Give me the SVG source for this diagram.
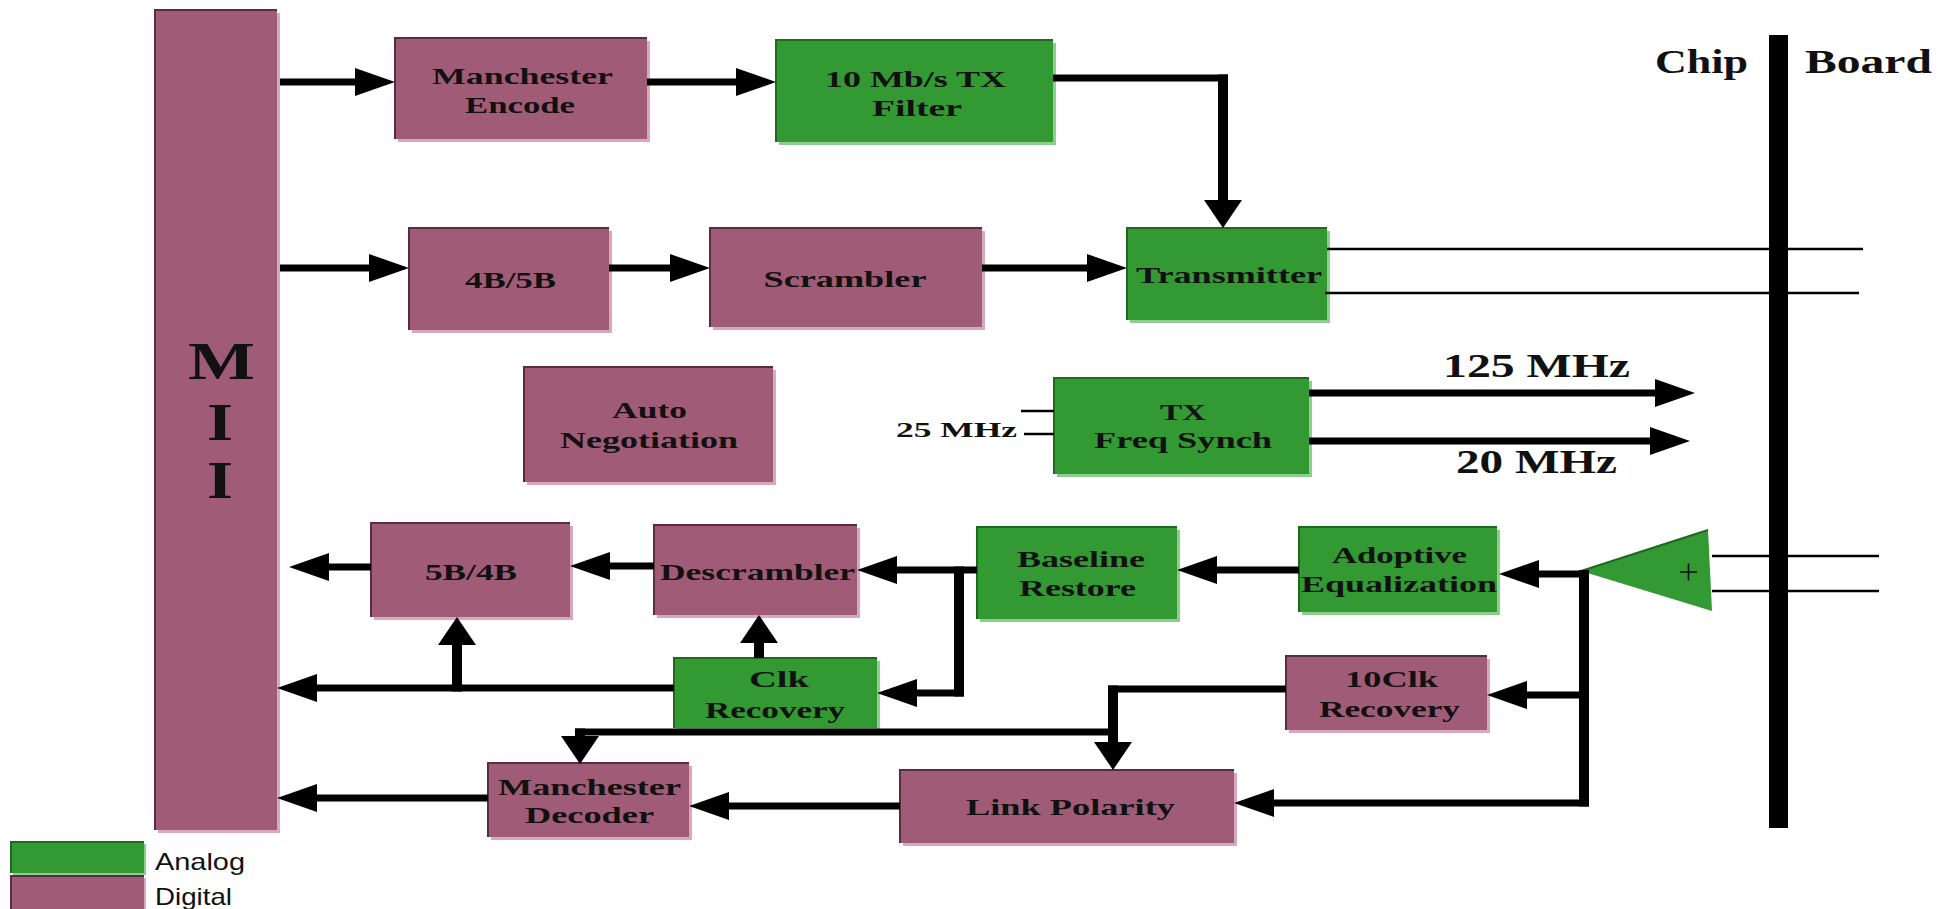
<svg xmlns="http://www.w3.org/2000/svg" width="1952" height="909" viewBox="0 0 1952 909">
  <style>
    .sh-d { fill: #d8a9bc; }
    .bd-d { fill: #a05c77; }
    .ed-d { fill: none; stroke: #5a2c40; stroke-width: 2; }
    .sh-a { fill: #8ccf8c; }
    .bd-a { fill: #339933; }
    .ed-a { fill: none; stroke: #1d6a1d; stroke-width: 2; }
    .lbl { font-family: "Liberation Serif", "Times New Roman", serif; font-weight: bold; font-size: 24px; fill: #111; text-anchor: middle; }
    .big { font-size: 33px; }
    .mii { font-size: 52px; }
    .leg { font-family: "Liberation Sans", Arial, sans-serif; font-size: 24px; fill: #111; }
    .h { stroke: #000; stroke-width: 7; fill: none; }
    .v { stroke: #000; stroke-width: 10; fill: none; }
    .thin { stroke: #000; stroke-width: 2.5; fill: none; }
  </style>
  <defs>
    <!-- horizontal arrowhead (wide and long) -->
    <marker id="ah" viewBox="0 0 40 28" refX="1" refY="14" markerWidth="40" markerHeight="28" markerUnits="userSpaceOnUse" orient="auto">
      <path d="M0,0 L40,14 L0,28 z" fill="#000"/>
    </marker>
    <!-- vertical arrowhead (short and broad) -->
    <marker id="av" viewBox="0 0 28 38" refX="1" refY="19" markerWidth="28" markerHeight="38" markerUnits="userSpaceOnUse" orient="auto">
      <path d="M0,0 L28,19 L0,38 z" fill="#000"/>
    </marker>
  </defs>

  <rect width="1952" height="909" fill="#fff"/>

  <!-- MII -->
  <g id="mii">
    <rect class="sh-d" x="158" y="13" width="122" height="820"/>
    <rect class="bd-d" x="155" y="10" width="122" height="820"/>
    <path class="ed-d" d="M155,830 V10 H277"/>
    <text class="lbl mii" x="221.5" y="379" textLength="67" lengthAdjust="spacingAndGlyphs">M</text>
    <text class="lbl mii" x="220" y="440" textLength="26" lengthAdjust="spacingAndGlyphs">I</text>
    <text class="lbl mii" x="220" y="498" textLength="26" lengthAdjust="spacingAndGlyphs">I</text>
  </g>

  <g id="manchester-encode">
    <rect class="sh-d" x="398" y="41" width="252" height="101"/>
    <rect class="bd-d" x="395" y="38" width="252" height="101"/>
    <path class="ed-d" d="M395,139 V38 H647"/>
    <text class="lbl" x="522.5" y="84" textLength="181" lengthAdjust="spacingAndGlyphs">Manchester</text>
    <text class="lbl" x="520" y="113" textLength="110" lengthAdjust="spacingAndGlyphs">Encode</text>
  </g>

  <g id="tx-filter">
    <rect class="sh-a" x="779" y="43" width="277" height="102"/>
    <rect class="bd-a" x="776" y="40" width="277" height="102"/>
    <path class="ed-a" d="M776,142 V40 H1053"/>
    <text class="lbl" x="915.5" y="87" textLength="181" lengthAdjust="spacingAndGlyphs">10 Mb/s TX</text>
    <text class="lbl" x="917" y="116" textLength="90" lengthAdjust="spacingAndGlyphs">Filter</text>
  </g>

  <g id="enc-4b5b">
    <rect class="sh-d" x="412" y="231" width="200" height="102"/>
    <rect class="bd-d" x="409" y="228" width="200" height="102"/>
    <path class="ed-d" d="M409,330 V228 H609"/>
    <text class="lbl" x="510.5" y="288" textLength="91" lengthAdjust="spacingAndGlyphs">4B/5B</text>
  </g>

  <g id="scrambler">
    <rect class="sh-d" x="713" y="231" width="272" height="99"/>
    <rect class="bd-d" x="710" y="228" width="272" height="99"/>
    <path class="ed-d" d="M710,327 V228 H982"/>
    <text class="lbl" x="845" y="287" textLength="163" lengthAdjust="spacingAndGlyphs">Scrambler</text>
  </g>

  <g id="transmitter">
    <rect class="sh-a" x="1130" y="231" width="200" height="92"/>
    <rect class="bd-a" x="1127" y="228" width="200" height="92"/>
    <path class="ed-a" d="M1127,320 V228 H1327"/>
    <text class="lbl" x="1229" y="283" textLength="186" lengthAdjust="spacingAndGlyphs">Transmitter</text>
  </g>

  <g id="auto-negotiation">
    <rect class="sh-d" x="527" y="370" width="249" height="115"/>
    <rect class="bd-d" x="524" y="367" width="249" height="115"/>
    <path class="ed-d" d="M524,482 V367 H773"/>
    <text class="lbl" x="649.5" y="418" textLength="75" lengthAdjust="spacingAndGlyphs">Auto</text>
    <text class="lbl" x="649" y="448" textLength="178" lengthAdjust="spacingAndGlyphs">Negotiation</text>
  </g>

  <g id="tx-freq-synch">
    <rect class="sh-a" x="1057" y="381" width="255" height="96"/>
    <rect class="bd-a" x="1054" y="378" width="255" height="96"/>
    <path class="ed-a" d="M1054,474 V378 H1309"/>
    <text class="lbl" x="1183" y="420" textLength="46" lengthAdjust="spacingAndGlyphs">TX</text>
    <text class="lbl" x="1183" y="448" textLength="178" lengthAdjust="spacingAndGlyphs">Freq Synch</text>
  </g>

  <g id="dec-5b4b">
    <rect class="sh-d" x="374" y="526" width="199" height="94"/>
    <rect class="bd-d" x="371" y="523" width="199" height="94"/>
    <path class="ed-d" d="M371,617 V523 H570"/>
    <text class="lbl" x="471" y="580" textLength="92" lengthAdjust="spacingAndGlyphs">5B/4B</text>
  </g>

  <g id="descrambler">
    <rect class="sh-d" x="657" y="528" width="203" height="90"/>
    <rect class="bd-d" x="654" y="525" width="203" height="90"/>
    <path class="ed-d" d="M654,615 V525 H857"/>
    <text class="lbl" x="757.5" y="580" textLength="195" lengthAdjust="spacingAndGlyphs">Descrambler</text>
  </g>

  <g id="baseline-restore">
    <rect class="sh-a" x="980" y="530" width="200" height="92"/>
    <rect class="bd-a" x="977" y="527" width="200" height="92"/>
    <path class="ed-a" d="M977,619 V527 H1177"/>
    <text class="lbl" x="1081" y="567" textLength="128" lengthAdjust="spacingAndGlyphs">Baseline</text>
    <text class="lbl" x="1077.5" y="596" textLength="117" lengthAdjust="spacingAndGlyphs">Restore</text>
  </g>

  <g id="adoptive-equalization">
    <rect class="sh-a" x="1302" y="530" width="198" height="85"/>
    <rect class="bd-a" x="1299" y="527" width="198" height="85"/>
    <path class="ed-a" d="M1299,612 V527 H1497"/>
    <text class="lbl" x="1399.5" y="563" textLength="135" lengthAdjust="spacingAndGlyphs">Adoptive</text>
    <text class="lbl" x="1399" y="592" textLength="196" lengthAdjust="spacingAndGlyphs">Equalization</text>
  </g>

  <g id="clk-recovery">
    <rect class="sh-a" x="677" y="661" width="203" height="70"/>
    <rect class="bd-a" x="674" y="658" width="203" height="70"/>
    <path class="ed-a" d="M674,728 V658 H877"/>
    <text class="lbl" x="779" y="687" textLength="60" lengthAdjust="spacingAndGlyphs">Clk</text>
    <text class="lbl" x="775" y="718" textLength="140" lengthAdjust="spacingAndGlyphs">Recovery</text>
  </g>

  <g id="clk10-recovery">
    <rect class="sh-d" x="1289" y="659" width="201" height="74"/>
    <rect class="bd-d" x="1286" y="656" width="201" height="74"/>
    <path class="ed-d" d="M1286,730 V656 H1487"/>
    <text class="lbl" x="1391.5" y="687" textLength="93" lengthAdjust="spacingAndGlyphs">10Clk</text>
    <text class="lbl" x="1389.5" y="717" textLength="141" lengthAdjust="spacingAndGlyphs">Recovery</text>
  </g>

  <g id="manchester-decoder">
    <rect class="sh-d" x="491" y="766" width="201" height="74"/>
    <rect class="bd-d" x="488" y="763" width="201" height="74"/>
    <path class="ed-d" d="M488,837 V763 H689"/>
    <text class="lbl" x="589.5" y="795" textLength="183" lengthAdjust="spacingAndGlyphs">Manchester</text>
    <text class="lbl" x="589.5" y="823" textLength="129" lengthAdjust="spacingAndGlyphs">Decoder</text>
  </g>

  <g id="link-polarity">
    <rect class="sh-d" x="903" y="773" width="334" height="73"/>
    <rect class="bd-d" x="900" y="770" width="334" height="73"/>
    <path class="ed-d" d="M900,843 V770 H1234"/>
    <text class="lbl" x="1070.5" y="815" textLength="209" lengthAdjust="spacingAndGlyphs">Link Polarity</text>
  </g>

  <!-- receive amplifier -->
  <g id="rx-amp">
    <polygon points="1581,571 1708,530 1712,611" fill="#339933"/>
    <path d="M1581,571 L1708,530" stroke="#1d6a1d" stroke-width="2" fill="none"/>
    <path d="M1680,572 H1697 M1688.5,563.5 V580.5" stroke="#111" stroke-width="1.6" fill="none"/>
  </g>

  <!-- chip / board boundary -->
  <g id="boundary">
    <rect x="1769" y="35" width="19" height="793" fill="#000"/>
    <text class="lbl" style="font-size:34px" x="1701.5" y="73" textLength="93" lengthAdjust="spacingAndGlyphs">Chip</text>
    <text class="lbl" style="font-size:34px" x="1868.5" y="73" textLength="127" lengthAdjust="spacingAndGlyphs">Board</text>
  </g>

  <!-- legend -->
  <g id="legend">
    <rect class="sh-a" x="13" y="844" width="133" height="31"/>
    <rect class="bd-a" x="11" y="842" width="133" height="31"/>
    <path class="ed-a" d="M11,873 V842 H144"/>
    <rect class="sh-d" x="13" y="878" width="133" height="33"/>
    <rect class="bd-d" x="11" y="876" width="133" height="33"/>
    <path class="ed-d" d="M11,909 V876 H144"/>
    <text class="leg" x="155" y="870" textLength="90" lengthAdjust="spacingAndGlyphs">Analog</text>
    <text class="leg" x="155" y="905" textLength="77" lengthAdjust="spacingAndGlyphs">Digital</text>
  </g>

  <!-- connectors -->
  <g id="connectors">
    <!-- transmit side -->
    <path class="h" d="M280,82 H356" marker-end="url(#ah)"/>
    <path class="h" d="M647,82 H737" marker-end="url(#ah)"/>
    <path class="h" d="M1053,78 H1228"/>
    <path class="v" d="M1223,74.5 V201" marker-end="url(#av)"/>
    <path class="h" d="M280,268 H370" marker-end="url(#ah)"/>
    <path class="h" d="M609,268 H671" marker-end="url(#ah)"/>
    <path class="h" d="M982,268 H1088" marker-end="url(#ah)"/>
    <path class="thin" d="M1327,249 H1863"/>
    <path class="thin" d="M1325,293 H1859"/>

    <!-- clock synthesis -->
    <path class="thin" d="M1021,411 H1054"/>
    <path class="thin" d="M1024,434 H1054"/>
    <text class="lbl" style="font-size:22px" x="956.5" y="437" textLength="121" lengthAdjust="spacingAndGlyphs">25 MHz</text>
    <path class="h" d="M1309,393 H1656" marker-end="url(#ah)"/>
    <path class="h" d="M1309,441 H1651" marker-end="url(#ah)"/>
    <text class="lbl big" x="1536.5" y="377" textLength="187" lengthAdjust="spacingAndGlyphs">125 MHz</text>
    <text class="lbl big" x="1536.5" y="473" textLength="161" lengthAdjust="spacingAndGlyphs">20 MHz</text>

    <!-- board inputs -->
    <path class="thin" d="M1712,556 H1879"/>
    <path class="thin" d="M1712,591 H1879"/>

    <!-- receive side -->
    <path class="h" d="M1589,574 H1538" marker-end="url(#ah)"/>
    <path class="v" d="M1584,570 V806.5"/>
    <path class="h" d="M1589,695 H1526" marker-end="url(#ah)"/>
    <path class="h" d="M1589,803 H1273" marker-end="url(#ah)"/>
    <path class="h" d="M1299,570 H1216" marker-end="url(#ah)"/>
    <path class="h" d="M977,570 H896" marker-end="url(#ah)"/>
    <path class="v" d="M959,566.5 V696.5"/>
    <path class="h" d="M964,693 H916" marker-end="url(#ah)"/>
    <path class="h" d="M654,566 H609" marker-end="url(#ah)"/>
    <path class="h" d="M371,567 H328" marker-end="url(#ah)"/>
    <path class="v" d="M759,658 V642" marker-end="url(#av)"/>
    <path class="h" d="M674,688 H316" marker-end="url(#ah)"/>
    <path class="v" d="M457,691.5 V644" marker-end="url(#av)"/>
    <path class="h" d="M1286,689 H1108"/>
    <path class="v" d="M1113,685.5 V743" marker-end="url(#av)"/>
    <path class="h" d="M1118,732 H575"/>
    <path class="v" d="M580,728.5 V737" marker-end="url(#av)"/>
    <path class="h" d="M900,806 H728" marker-end="url(#ah)"/>
    <path class="h" d="M488,798 H316" marker-end="url(#ah)"/>
  </g>
</svg>
